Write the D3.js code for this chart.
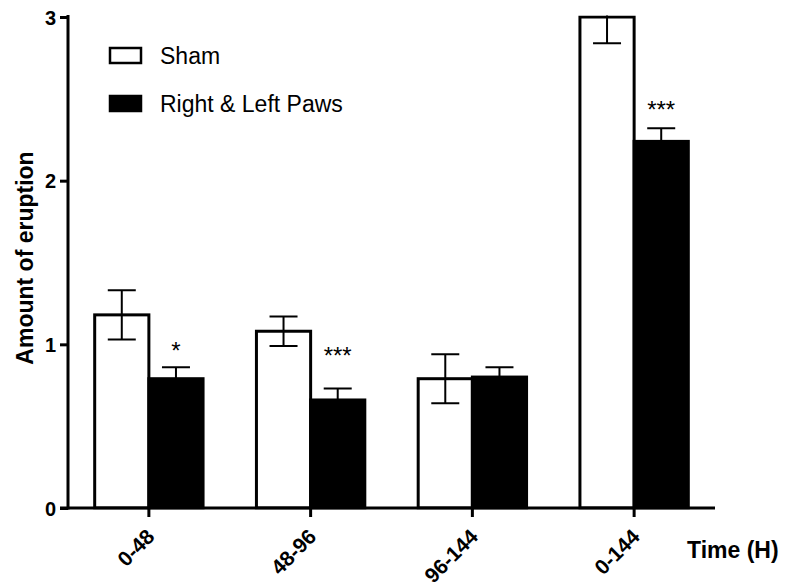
<!DOCTYPE html>
<html>
<head>
<meta charset="utf-8">
<script src="https://cdn.jsdelivr.net/npm/d3@7"></script>
<style>
  body { margin: 0; background: #fff; }
  text { font-family: "Liberation Sans", Arial, sans-serif; }
</style>
</head>
<body>
<script>
const width = 786;
const height = 585;

// data
const categories = ["0-48", "48-96", "96-144", "0-144"];
const series = ["Sham", "Right & Left Paws"];
const shamMean = [1.18, 1.08, 0.79, 3.0];
const shamSem = [0.15, 0.09, 0.15, 0.16];
const pawsMean = [0.79, 0.66, 0.80, 2.24];
const pawsSem = [0.07, 0.07, 0.06, 0.08];
const stars = ["*", "***", "", "***"];
const starLevel = [0.91, 0.88, 0, 2.38];
const yTicks = [0, 1, 2, 3];

var svg = d3
  .select("body")
  .append("svg")
  .attr("width", width)
  .attr("height", height);

var x = d3.scaleBand()
  .domain(categories)
  .range([68, 715])
  .paddingInner(0.33)
  .paddingOuter(0.165);

var xs = d3.scaleBand()
  .domain(series)
  .range([0, x.bandwidth()]);

var y = d3.scaleLinear()
  .domain([0, 3])
  .range([508, 17]);

svg.append("clipPath")
  .attr("id", "plot")
  .append("rect")
  .attr("x", 60)
  .attr("y", y(3) - 1.5)
  .attr("width", 700)
  .attr("height", y(0) - y(3) + 3);

var rows = categories.map((c, i) => [
  { cat: c, s: series[0], mean: shamMean[i], sem: shamSem[i] },
  { cat: c, s: series[1], mean: pawsMean[i], sem: pawsSem[i] }
]).flat();

var plot = svg.append("g").attr("clip-path", "url(#plot)");

plot.selectAll("rect.bar")
  .data(rows)
  .enter()
  .append("rect")
  .attr("class", "bar")
  .attr("x", d => x(d.cat) + xs(d.s))
  .attr("y", d => y(d.mean))
  .attr("width", xs.bandwidth())
  .attr("height", d => y(0) - y(d.mean))
  .attr("fill", d => d.s === series[0] ? "#fff" : "#000")
  .attr("stroke", "#000")
  .attr("stroke-width", 3);

// error bars
var eb = plot.selectAll("g.err")
  .data(rows)
  .enter()
  .append("g")
  .attr("class", "err")
  .attr("stroke", "#000")
  .attr("stroke-width", 2);

eb.append("line")
  .attr("x1", d => x(d.cat) + xs(d.s) + xs.bandwidth() / 2)
  .attr("x2", d => x(d.cat) + xs(d.s) + xs.bandwidth() / 2)
  .attr("y1", d => y(d.mean - d.sem))
  .attr("y2", d => y(d.mean + d.sem));

eb.selectAll("line.cap")
  .data(d => [d.mean - d.sem, d.mean + d.sem].map(v => ({ d: d, v: v })))
  .enter()
  .append("line")
  .attr("class", "cap")
  .attr("x1", e => x(e.d.cat) + xs(e.d.s) + xs.bandwidth() / 2 - 14)
  .attr("x2", e => x(e.d.cat) + xs(e.d.s) + xs.bandwidth() / 2 + 14)
  .attr("y1", e => y(e.v))
  .attr("y2", e => y(e.v));

// significance stars
svg.selectAll("text.star")
  .data(categories)
  .enter()
  .append("text")
  .attr("class", "star")
  .attr("x", (c) => x(c) + xs(series[1]) + xs.bandwidth() / 2)
  .attr("y", (c, i) => y(starLevel[i]))
  .attr("text-anchor", "middle")
  .style("font-size", "24px")
  .text((c, i) => stars[i]);

// axes
var yAxis = svg.append("g")
  .attr("transform", "translate(68,0)")
  .call(d3.axisLeft(y).tickValues(yTicks).tickFormat(d3.format("d")).tickSize(8).tickSizeOuter(0));
yAxis.select(".domain").attr("stroke-width", 3).attr("d", "M0," + (y(3) - 2) + "V" + (y(0) + 1.5));
yAxis.selectAll(".tick line").attr("stroke-width", 3);
yAxis.selectAll(".tick text")
  .attr("x", -12)
  .attr("dy", "0.36em")
  .style("font-size", "20px")
  .style("font-weight", "bold")
  .attr("fill", "#000");

var xAxis = svg.append("g")
  .attr("transform", "translate(0," + y(0) + ")")
  .call(d3.axisBottom(x).tickSize(9).tickSizeOuter(0));
xAxis.select(".domain").attr("stroke-width", 3).attr("d", "M60,0H715");
xAxis.selectAll(".tick line").attr("stroke-width", 3);
xAxis.selectAll(".tick text")
  .attr("y", 0)
  .attr("dy", 0)
  .attr("text-anchor", "end")
  .attr("transform", "translate(7,30) rotate(-45)")
  .style("font-size", "21px")
  .style("font-weight", "bold")
  .attr("fill", "#000");

svg.append("text")
  .attr("x", 687)
  .attr("y", 558)
  .style("font-size", "23px")
  .style("font-weight", "bold")
  .text("Time (H)");

svg.append("text")
  .attr("transform", "translate(33,258) rotate(-90)")
  .attr("text-anchor", "middle")
  .style("font-size", "23px")
  .style("font-weight", "bold")
  .text("Amount of eruption");

// legend
var legend = svg.selectAll("g.legend")
  .data(series)
  .enter()
  .append("g")
  .attr("class", "legend")
  .attr("transform", (d, i) => "translate(110," + (48 + i * 48) + ")");

legend.append("rect")
  .attr("width", 31)
  .attr("height", 15)
  .attr("fill", (d, i) => i === 0 ? "#fff" : "#000")
  .attr("stroke", "#000")
  .attr("stroke-width", 2.5);

legend.append("text")
  .attr("x", 50)
  .attr("y", 16)
  .style("font-size", "23px")
  .text(d => d);
</script>
</body>
</html>
